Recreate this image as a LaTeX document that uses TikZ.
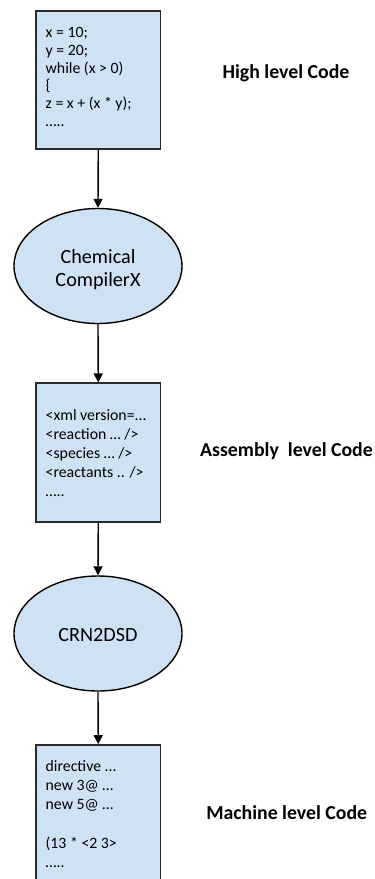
\documentclass[tikz,border=0pt]{standalone}
\usepackage{fontspec}
\setmainfont{Carlito}
\usetikzlibrary{shapes.geometric,arrows.meta,calc}
\definecolor{boxfill}{HTML}{CFE2F3}
\definecolor{boxline}{HTML}{2B2B2B}
\begin{document}
\begin{tikzpicture}[x=1pt,y=-1pt,
  codebox/.style={draw=boxline,line width=1.6pt,fill=boxfill,minimum width=124.5pt,inner sep=0pt},
  compiler/.style={ellipse,draw=black,line width=1.4pt,fill=boxfill,minimum width=168pt,minimum height=115pt,inner sep=0pt},
  compilertext/.style={anchor=base,inner sep=0pt,font=\fontsize{20.2}{23}\selectfont},
  codetext/.style={anchor=base west,inner sep=0pt,font=\fontsize{15.8}{18}\selectfont},
  levellabel/.style={font=\fontsize{19.8}{22}\selectfont\bfseries,inner sep=0pt},
  flow/.style={draw=black,line width=1.4pt,-{Triangle[length=9pt,width=9pt]}}]
\useasboundingbox (0,0) rectangle (375,879);
\begin{scope}
\clip (0,0) rectangle (375,879);
\node[codebox,minimum height=138.3pt] (b1) at (98.25,79.85) {};
\node[compiler] (e1) at (98,266) {};
\node[codebox,minimum height=138.5pt] (b2) at (98.25,452.5) {};
\node[compiler] (e2) at (98,633.5) {};
\node[codebox,minimum height=160pt] (b3) at (98.25,825) {};
\end{scope}
% ellipse texts
\node[compilertext] (e1a) at (98,263.3) {Chemical};
\node[compilertext] (e1b) at (98,286) {CompilerX};
\node[compilertext] (e2a) at (98,641.5) {CRN2DSD};
% box 1
\node[codetext] (t1a) at (45.5,37.8) {x = 10;};
\node[codetext] (t1b) at (45.5,55.5) {y = 20;};
\node[codetext] (t1c) at (45.5,73.2) {while (x > 0)};
\node[codetext] (t1d) at (45.5,90.9) {\{};
\node[codetext] (t1e) at (45.5,108.6) {z = x + (x * y);};
\node[codetext] (t1f) at (45.5,126.3) {\ldots..};
% box 2
\node[codetext] (t2a) at (45.5,420.7) {<xml version=...};
\node[codetext] (t2b) at (45.5,439.6) {<reaction \ldots\ />};
\node[codetext] (t2c) at (45.5,458.5) {<species \ldots\ />};
\node[codetext] (t2d) at (45.5,477.5) {<reactants .. />};
\node[codetext] (t2e) at (45.5,496.5) {\ldots..};
% box 3
\node[codetext] (t3a) at (45.5,771.5) {directive ...};
\node[codetext] (t3b) at (45.5,790.7) {new 3@ \ldots};
\node[codetext] (t3c) at (45.5,809.9) {new 5@ \ldots};
\node[codetext] (t3d) at (45.5,848.3) {(13 * <2 3>};
\node[codetext] (t3e) at (45.5,867.5) {\ldots..};
% labels
\node[levellabel] (l1) at (286,73) {High level Code};
\node[levellabel] (l2) at (286.5,451) {Assembly\ \ level Code};
\node[levellabel] (l3) at (286.7,813) {Machine level Code};
% arrows
\draw[flow] (b1.south) -- (e1.north);
\draw[flow] (e1.south) -- (b2.north);
\draw[flow] (b2.south) -- (e2.north);
\draw[flow] (e2.south) -- (b3.north);
\end{tikzpicture}
\end{document}
